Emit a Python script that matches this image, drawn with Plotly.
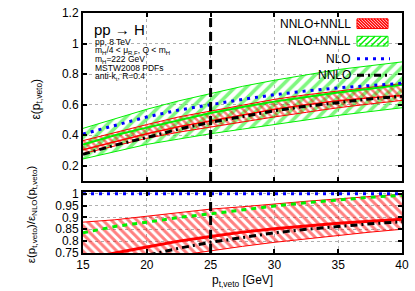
import plotly.graph_objects as go

# ---------------- data ----------------
pt_veto = [15, 17.5, 20, 22.5, 25, 27.5, 30, 32.5, 35, 37.5, 40]
veto_cut = 25

# main panel: efficiency
nlo = [0.408, 0.465, 0.52, 0.565, 0.60, 0.635, 0.665, 0.69, 0.71, 0.725, 0.74]
nnlo = [0.275, 0.335, 0.385, 0.44, 0.485, 0.525, 0.56, 0.59, 0.615, 0.638, 0.655]
nlo_nnll_lo = [0.245, 0.295, 0.34, 0.375, 0.41, 0.44, 0.47, 0.50, 0.53, 0.555, 0.58]
nlo_nnll_hi = [0.445, 0.51, 0.57, 0.625, 0.675, 0.72, 0.76, 0.795, 0.83, 0.855, 0.88]
nlo_nnll_c = [0.34, 0.40, 0.45, 0.50, 0.545, 0.585, 0.62, 0.65, 0.68, 0.705, 0.73]
nnlo_nnll_lo = [0.28, 0.33, 0.38, 0.42, 0.455, 0.49, 0.52, 0.55, 0.58, 0.605, 0.628]
nnlo_nnll_hi = [0.365, 0.42, 0.47, 0.52, 0.56, 0.60, 0.635, 0.665, 0.69, 0.715, 0.738]
nnlo_nnll_c = [0.305, 0.36, 0.41, 0.455, 0.495, 0.535, 0.57, 0.60, 0.625, 0.645, 0.66]

# ratio panel: efficiency / NLO efficiency
r_nlo = [1.0] * 11
r_nnlo = [0.67, 0.71, 0.74, 0.77, 0.795, 0.815, 0.835, 0.85, 0.862, 0.873, 0.882]
r_nlo_nnll = [0.835, 0.862, 0.88, 0.90, 0.915, 0.932, 0.948, 0.962, 0.975, 0.985, 0.993]
r_nnlo_nnll_lo = [0.66, 0.69, 0.715, 0.74, 0.76, 0.778, 0.795, 0.81, 0.825, 0.838, 0.85]
r_nnlo_nnll_hi = [0.88, 0.89, 0.905, 0.92, 0.935, 0.945, 0.958, 0.968, 0.978, 0.988, 0.998]
r_nnlo_nnll_c = [0.72, 0.75, 0.775, 0.80, 0.82, 0.838, 0.852, 0.865, 0.875, 0.884, 0.892]

top_yticks = [0.2, 0.4, 0.6, 0.8, 1.0, 1.2]
top_yticklabels = ["0.2", "0.4", "0.6", "0.8", "1", "1.2"]
bot_yticks = [0.75, 0.8, 0.85, 0.9, 0.95, 1.0]
bot_yticklabels = ["0.75", "0.8", "0.85", "0.9", "0.95", "1"]
xticks = [15, 20, 25, 30, 35, 40]

legend_labels = ["NNLO+NNLL", "NLO+NNLL", "NLO", "NNLO"]

# ---------------- styles ----------------
RED = "#ff0000"
GREEN = "#00f000"
BLUE = "#0000ff"
BLACK = "#000000"
FONT = "Liberation Sans, Arial, sans-serif"

W, H = 415, 291
L, R, T, B = 83, 13, 6, 38
PW, PH = W - L - R, H - T - B


def px2paper(px, py):
    return (px - L) / PW, (H - B - py) / PH


fig = go.Figure()

# ---- top panel ----
fig.add_trace(go.Scatter(x=pt_veto, y=nlo_nnll_lo, mode="lines",
                         line=dict(color=GREEN, width=1), xaxis="x", yaxis="y"))
fig.add_trace(go.Scatter(x=pt_veto, y=nlo_nnll_hi, mode="lines",
                         line=dict(color=GREEN, width=1), fill="tonexty",
                         fillcolor="rgba(0,0,0,0)",
                         fillpattern=dict(shape="/", fgcolor=GREEN, size=8, solidity=0.45),
                         xaxis="x", yaxis="y"))
fig.add_trace(go.Scatter(x=pt_veto, y=nnlo_nnll_lo, mode="lines",
                         line=dict(color=RED, width=1), xaxis="x", yaxis="y"))
fig.add_trace(go.Scatter(x=pt_veto, y=nnlo_nnll_hi, mode="lines",
                         line=dict(color=RED, width=1), fill="tonexty",
                         fillcolor="rgba(0,0,0,0)",
                         fillpattern=dict(shape="\\", fgcolor=RED, size=5, solidity=0.5),
                         xaxis="x", yaxis="y"))
fig.add_trace(go.Scatter(x=pt_veto, y=nlo_nnll_c, mode="lines",
                         line=dict(color=GREEN, width=2), xaxis="x", yaxis="y"))
fig.add_trace(go.Scatter(x=pt_veto, y=nnlo_nnll_c, mode="lines",
                         line=dict(color=RED, width=1.5), xaxis="x", yaxis="y"))
fig.add_trace(go.Scatter(x=pt_veto, y=nlo, mode="lines",
                         line=dict(color=BLUE, width=3, dash="3px,5px"), xaxis="x", yaxis="y"))
fig.add_trace(go.Scatter(x=pt_veto, y=nnlo, mode="lines",
                         line=dict(color=BLACK, width=3, dash="7px,4px,2px,4px"),
                         xaxis="x", yaxis="y"))

# ---- ratio panel ----
fig.add_trace(go.Scatter(x=pt_veto, y=r_nnlo_nnll_lo, mode="lines",
                         line=dict(color=RED, width=1), xaxis="x2", yaxis="y2"))
fig.add_trace(go.Scatter(x=pt_veto, y=r_nnlo_nnll_hi, mode="lines",
                         line=dict(color=RED, width=1), fill="tonexty",
                         fillcolor="rgba(0,0,0,0)",
                         fillpattern=dict(shape="\\", fgcolor=RED, size=6, solidity=0.5),
                         xaxis="x2", yaxis="y2"))
fig.add_trace(go.Scatter(x=pt_veto, y=r_nnlo_nnll_c, mode="lines",
                         line=dict(color=RED, width=3), xaxis="x2", yaxis="y2"))
fig.add_trace(go.Scatter(x=pt_veto, y=r_nlo_nnll, mode="lines",
                         line=dict(color=GREEN, width=3, dash="5px,5px"), xaxis="x2", yaxis="y2"))
fig.add_trace(go.Scatter(x=pt_veto, y=r_nnlo, mode="lines",
                         line=dict(color=BLACK, width=3, dash="7px,4px,2px,4px"),
                         xaxis="x2", yaxis="y2"))
fig.add_trace(go.Scatter(x=pt_veto, y=r_nlo, mode="lines",
                         line=dict(color=BLUE, width=3, dash="3px,5px"), xaxis="x2", yaxis="y2"))

# vertical veto-cut lines
for xr, yr in (("x", "y domain"), ("x2", "y2 domain")):
    fig.add_shape(type="line", xref=xr, yref=yr, x0=veto_cut, x1=veto_cut, y0=0, y1=1,
                  line=dict(color=BLACK, width=3, dash="9px,5px"))

# ---- axes ----
top_dom = ((H - B - 179) / PH, 1.0)
bot_dom = (0.0, (H - B - 190) / PH)

axis_common = dict(showline=True, linecolor=BLACK, linewidth=2, mirror="allticks",
                   ticks="inside", ticklen=4, tickwidth=1.5, tickcolor=BLACK,
                   showgrid=True, gridcolor="#b0b0b0", gridwidth=1, griddash="dot",
                   zeroline=False, tickfont=dict(family=FONT, size=12, color=BLACK))

fig.update_layout(
    xaxis=dict(axis_common, domain=[0, 1], range=[15, 40], anchor="y",
               tickvals=xticks, showticklabels=False),
    yaxis=dict(axis_common, domain=list(top_dom), range=[0.1, 1.2], anchor="x",
               tickvals=top_yticks, ticktext=top_yticklabels),
    xaxis2=dict(axis_common, domain=[0, 1], range=[15, 40], anchor="y2",
                tickvals=xticks, ticktext=[str(v) for v in xticks]),
    yaxis2=dict(axis_common, domain=list(bot_dom), range=[0.75, 1.008], anchor="x2",
                tickvals=bot_yticks, ticktext=bot_yticklabels),
    width=W, height=H,
    margin=dict(l=L, r=R, t=T, b=B, pad=0),
    paper_bgcolor="white", plot_bgcolor="white",
    showlegend=False,
    font=dict(family=FONT, size=12, color=BLACK),
)

annotations = []


def add_text(txt, px, py, size, xanchor="center", angle=0):
    x0, y0 = px2paper(px, py)
    annotations.append(dict(text=txt, x=x0, y=y0, xref="paper", yref="paper",
                            xanchor=xanchor, yanchor="middle", showarrow=False,
                            textangle=angle, font=dict(size=size)))


# axis titles
add_text("p<sub>t,veto</sub> [GeV]", 242, 282, 12)
add_text("ε(p<sub>t,veto</sub>)", 37, 95, 12, angle=-90)
add_text("ε(p<sub>t,veto</sub>)/ε<sub>NLO</sub>(p<sub>t,veto</sub>)", 32, 213, 11.5, angle=-90)
# process labels
add_text("pp → H", 92, 23, 15, xanchor="left")
info = ["pp, 8 TeV", "m<sub>H</sub>/4 < μ<sub>R,F</sub>, Q < m<sub>H</sub>",
        "m<sub>H</sub>=222 GeV", "MSTW2008 PDFs", "anti-k<sub>t</sub>, R=0.4"]
for txt, py in zip(info, [36, 45, 54, 63, 71]):
    add_text(txt, 93, py, 8.5, xanchor="left")
# legend texts
rows_y = [17, 35, 53, 70]
for txt, py in zip(legend_labels, rows_y):
    add_text(txt, 353, py, 12, xanchor="right")
fig.update_layout(annotations=annotations)


# legend samples
def hatch_box(px0, py0, px1, py1, color, step, forward):
    a = px2paper(px0, py0)
    b = px2paper(px1, py1)
    fig.add_shape(type="rect", xref="paper", yref="paper", x0=a[0], y0=b[1], x1=b[0], y1=a[1],
                  line=dict(color=color, width=1))
    h = py1 - py0
    segs = []
    s = px0 - h
    while s < px1:
        if forward:
            xa, ya, xb, yb = s, py1, s + h, py0
        else:
            xa, ya, xb, yb = s, py0, s + h, py1
        if xa < px0:
            t = (px0 - xa) / (xb - xa)
            ya = ya + t * (yb - ya)
            xa = px0
        if xb > px1:
            t = (px1 - xa) / (xb - xa)
            yb = ya + t * (yb - ya)
            xb = px1
        if xb > xa:
            p1 = px2paper(xa, ya)
            p2 = px2paper(xb, yb)
            segs.append(f"M{p1[0]:.5f},{p1[1]:.5f} L{p2[0]:.5f},{p2[1]:.5f}")
        s += step
    fig.add_shape(type="path", xref="paper", yref="paper", path=" ".join(segs),
                  line=dict(color=color, width=1.5))


hatch_box(357, 12, 388, 22, RED, 3, False)
hatch_box(357, 30, 388, 40, GREEN, 6, True)
a = px2paper(357, rows_y[2])
b = px2paper(390, rows_y[2])
fig.add_shape(type="line", xref="paper", yref="paper", x0=a[0], y0=a[1], x1=b[0], y1=b[1],
              line=dict(color=BLUE, width=3, dash="3px,5px"))
a = px2paper(357, rows_y[3])
b = px2paper(390, rows_y[3])
fig.add_shape(type="line", xref="paper", yref="paper", x0=a[0], y0=a[1], x1=b[0], y1=b[1],
              line=dict(color=BLACK, width=3, dash="7px,4px,2px,4px"))

fig.write_html("out.html", config={"displayModeBar": False},
               post_script="document.body.style.margin='0';")
